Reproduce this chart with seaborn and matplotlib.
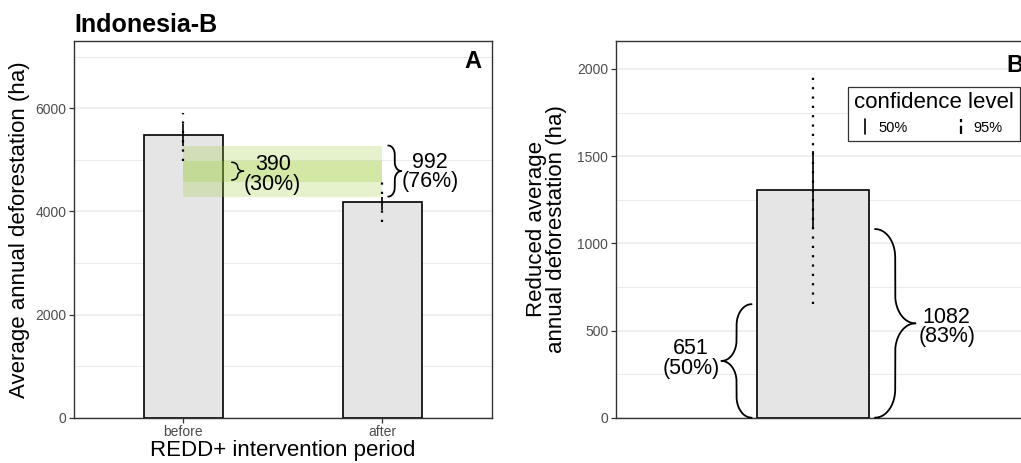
import numpy as np
import pandas as pd
import matplotlib
matplotlib.use("Agg")
import matplotlib.pyplot as plt
from matplotlib.ticker import MultipleLocator
from matplotlib.lines import Line2D
from matplotlib.legend_handler import HandlerBase
import seaborn as sns

# ---------------- data ----------------
periods = ["before", "after"]
avg_defor = [5490, 4178]
ci50_low = [5280, 4032]
ci50_high = [5700, 4288]
ci95_low = [4970, 3800]
ci95_high = [5920, 4580]

band_labels = ["390\n(30%)", "992\n(76%)"]

reduced_cat = ["reduced"]
reduced_val = [1305]
red_ci50 = [1082, 1530]
red_ci95 = [651, 1962]
red_labels = ["651\n(50%)", "1082\n(83%)"]

conf_levels = ["50%", "95%"]

# ---------------- style ----------------
sns.set_theme(style="white")
plt.rcParams["font.family"] = ["Liberation Sans", "DejaVu Sans"]
plt.rcParams["text.color"] = "black"
plt.rcParams["axes.labelcolor"] = "black"
EDGE = "#333333"
GRID = "#EBEBEB"
TICK = "#4D4D4D"
BAR = "#E5E5E5"
GREEN = "#9ACD32"

fig = plt.figure(figsize=(10.21, 4.63), dpi=100)
W, H = 1021, 463


def add_axes(left_px, top_px, right_px, bottom_px):
    return fig.add_axes([left_px / W, (H - bottom_px) / H,
                         (right_px - left_px) / W, (bottom_px - top_px) / H])


axA = add_axes(74, 40.7, 491.7, 417.7)
axB = add_axes(616, 41, 1033.7, 417.7)


def style_axes(ax, major, ymax):
    ax.set_ylim(0, ymax)
    ax.yaxis.set_major_locator(MultipleLocator(major))
    ax.yaxis.set_minor_locator(MultipleLocator(major / 2))
    ax.grid(False)
    ax.grid(axis="y", which="major", color=GRID, lw=1.1, zorder=0)
    ax.grid(axis="y", which="minor", color=GRID, lw=0.7, zorder=0)
    ax.set_axisbelow(True)
    for s in ax.spines.values():
        s.set_color(EDGE)
        s.set_linewidth(1.0)
    ax.tick_params(axis="both", which="major", length=3.5, width=0.9,
                   color=EDGE, labelsize=10, labelcolor=TICK, pad=2,
                   left=True, bottom=True)
    ax.tick_params(axis="y", which="minor", length=0)


def brace(ax, x_end, x_tip, y0, y1, lw=1.3):
    p0 = ax.transData.transform((x_end, y0))
    p1 = ax.transData.transform((x_tip, y1))
    w_px = abs(p1[0] - p0[0])
    h_px = abs(p1[1] - p0[1]) / 2
    a = min(0.5, 0.7 * w_px / h_px)
    s = np.linspace(0, 1, 300)
    g = np.where(s < a, 0.5 * np.sqrt(np.clip(1 - (1 - s / a) ** 2, 0, 1)), 0.5)
    g = np.where(s > 1 - a,
                 0.5 + 0.5 * (1 - np.sqrt(np.clip(1 - ((s - (1 - a)) / a) ** 2, 0, 1))),
                 g)
    ym = (y0 + y1) / 2
    x = x_end + (x_tip - x_end) * g
    ax.plot(x, y0 + (ym - y0) * s, color="black", lw=lw, clip_on=False, zorder=6)
    ax.plot(x, y1 + (ym - y1) * s, color="black", lw=lw, clip_on=False, zorder=6)


dotted = (0, (1, 3.2))

# ---------------- panel A ----------------
dfA = pd.DataFrame({"period": periods, "defor": avg_defor})
sns.barplot(data=dfA, x="period", y="defor", ax=axA, width=0.4, color=BAR,
            saturation=1, edgecolor="black", linewidth=1.2, errorbar=None,
            zorder=2)
style_axes(axA, 2000, 7313)
axA.set_xlim(-0.55, 1.55)
xs = np.arange(len(periods))
axA.vlines(xs, ci95_low, ci95_high, colors="black", linestyles=dotted, lw=1.6, zorder=5)
axA.vlines(xs, ci50_low, ci50_high, colors="black", linestyles="solid", lw=1.2, zorder=5)

# bands: difference between bounds of before and after
outer_lo, outer_hi = ci50_high[1], ci50_low[0]
inner_lo, inner_hi = ci95_high[1], ci95_low[0]
axA.fill_between([xs[0], xs[1]], outer_lo, outer_hi, color=GREEN, alpha=0.25,
                 lw=0, zorder=4)
axA.fill_between([xs[0], xs[1]], inner_lo, inner_hi, color=GREEN, alpha=0.25,
                 lw=0, zorder=4)

brace(axA, 0.243, 0.302, inner_lo + 30, inner_hi - 15, lw=1.1)
axA.text(0.305, (inner_lo + inner_hi) / 2 - 60, band_labels[0], ha="left",
         va="center", multialignment="center", fontsize=15.5, linespacing=0.9,
         zorder=7)
brace(axA, 1.03, 1.095, outer_lo, outer_hi, lw=1.3)
axA.text(1.097, (outer_lo + outer_hi) / 2 - 20, band_labels[1], ha="left",
         va="center", multialignment="center", fontsize=15.5, linespacing=0.9,
         zorder=7)

axA.set_xlabel("REDD+ intervention period", fontsize=16)
axA.xaxis.set_label_coords(0.5, -0.058)
axA.set_ylabel("Average annual deforestation (ha)", fontsize=16)
axA.yaxis.set_label_coords(-0.105, 0.5)
axA.text(0.976, 0.9275, "A", transform=axA.transAxes, ha="right", va="baseline",
         fontsize=17, fontweight="bold")

fig.text(74 / W, (H - 31.7) / H, "Indonesia-B", ha="left", va="baseline",
         fontsize=18, fontweight="bold")

# ---------------- panel B ----------------
dfB = pd.DataFrame({"cat": reduced_cat, "val": reduced_val})
sns.barplot(data=dfB, x="cat", y="val", ax=axB, width=0.6, color=BAR,
            saturation=1, edgecolor="black", linewidth=1.2, errorbar=None,
            zorder=2)
style_axes(axB, 500, 2160)
axB.set_xlim(-1.049, 1.175)
axB.set_xticks([])
axB.set_xlabel("")
axB.vlines([0], [red_ci95[0]], [red_ci95[1]], colors="black", linestyles=dotted,
           lw=1.6, zorder=5)
axB.vlines([0], [red_ci50[0]], [red_ci50[1]], colors="black", linestyles="solid",
           lw=1.2, zorder=5)

brace(axB, -0.327, -0.487, 0, red_ci95[0], lw=1.3)
axB.text(-0.497, red_ci95[0] / 2 + 15, red_labels[0], ha="right", va="center",
         multialignment="center", fontsize=15.5, linespacing=0.9)
brace(axB, 0.33, 0.545, 0, red_ci50[0], lw=1.3)
axB.text(0.56, red_ci50[0] / 2 - 20, red_labels[1], ha="left", va="center",
         multialignment="center", fontsize=15.5, linespacing=0.9)

axB.set_ylabel("Reduced average\nannual deforestation (ha)", fontsize=16,
               linespacing=0.95)
axB.yaxis.set_label_coords(-0.118, 0.5)
axB.text(0.976, 0.918, "B", transform=axB.transAxes, ha="right", va="baseline",
         fontsize=17, fontweight="bold")


class VLineHandler(HandlerBase):
    def create_artists(self, legend, orig_handle, xdescent, ydescent, width,
                       height, fontsize, trans):
        x = width / 2 - xdescent
        ln = Line2D([x, x], [-ydescent - 2, height - ydescent + 2],
                    color="black", lw=orig_handle.get_linewidth(),
                    linestyle=orig_handle.get_linestyle())
        ln.set_transform(trans)
        return [ln]


handles = [Line2D([], [], color="black", lw=1.2, linestyle="solid"),
           Line2D([], [], color="black", lw=1.6, linestyle=dotted)]
leg = axB.legend(handles, conf_levels, title="confidence level", ncol=2,
                 loc="upper left", bbox_to_anchor=(0.556, 0.879),
                 borderaxespad=0, frameon=True, fancybox=False, framealpha=1,
                 edgecolor=EDGE, fontsize=10.5, title_fontsize=16,
                 handlelength=1.5, handletextpad=0.15, columnspacing=2.9,
                 borderpad=0.4, alignment="left",
                 handler_map={Line2D: VLineHandler()})
leg.get_frame().set_linewidth(0.9)
leg.set_zorder(10)

fig.savefig("out.png", dpi=100)
